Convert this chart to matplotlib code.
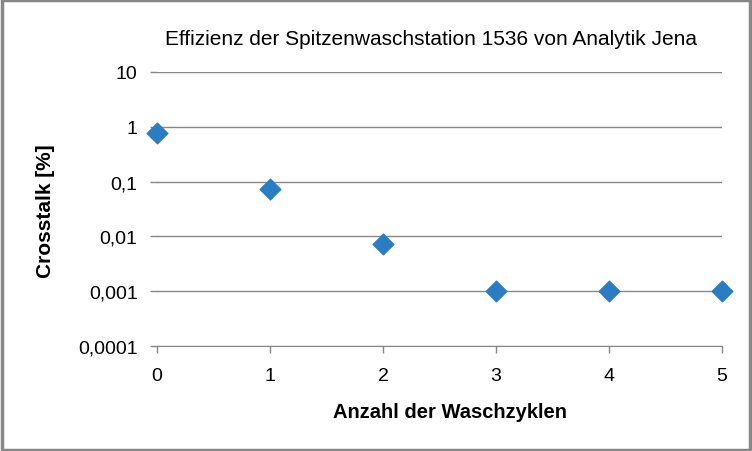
import matplotlib.pyplot as plt
from matplotlib.ticker import FixedLocator, FuncFormatter

# Daten
zyklen = [0, 1, 2, 3, 4, 5]
crosstalk = [0.77, 0.073, 0.0072, 0.001, 0.001, 0.001]
y_ticks = [0.0001, 0.001, 0.01, 0.1, 1, 10]
y_labels = ["0,0001", "0,001", "0,01", "0,1", "1", "10"]

plt.rcParams['font.family'] = ['Liberation Sans', 'DejaVu Sans']

fig = plt.figure(figsize=(7.52, 4.52), dpi=100)
ax = fig.add_axes([0.2088, 0.2323, 0.7513, 0.6062])

ax.scatter(zyklen, crosstalk, marker='D', s=110, color='#2A7DC2', zorder=3, clip_on=False)

ax.set_yscale('log')
ax.set_ylim(0.0001, 10)
ax.set_xlim(0, 5)
ax.yaxis.set_major_locator(FixedLocator(y_ticks))
ax.yaxis.set_minor_locator(FixedLocator([]))
ax.yaxis.set_major_formatter(FuncFormatter(lambda v, p: y_labels[y_ticks.index(min(y_ticks, key=lambda t: abs(t - v)))]))
ax.set_xticks(zyklen)

ax.grid(True, axis='y', color='#878787', linewidth=1)
ax.set_axisbelow(True)
for s in ['top', 'right', 'left']:
    ax.spines[s].set_visible(False)
ax.spines['bottom'].set_color('#878787')
ax.tick_params(axis='both', colors='#878787', labelcolor='black', labelsize=14, length=5, width=1)
ax.tick_params(axis='y', pad=9)
ax.tick_params(axis='x', pad=10)

fig.text(0.598, 0.088, "Anzahl der Waschzyklen", ha='center', va='center',
         fontsize=14.5, fontweight='bold')
fig.text(0.061, 0.533, "Crosstalk [%]", ha='center', va='center', rotation=90,
         fontsize=15, fontweight='bold')
fig.text(0.573, 0.912, "Effizienz der Spitzenwaschstation 1536 von Analytik Jena",
         ha='center', va='center', fontsize=15)

# Rahmen
fig.patches.append(plt.Rectangle((0.002, 0.003), 0.995, 0.994, transform=fig.transFigure,
                                 fill=False, edgecolor='#878787', linewidth=2.5))

plt.savefig("out.png", dpi=100)
